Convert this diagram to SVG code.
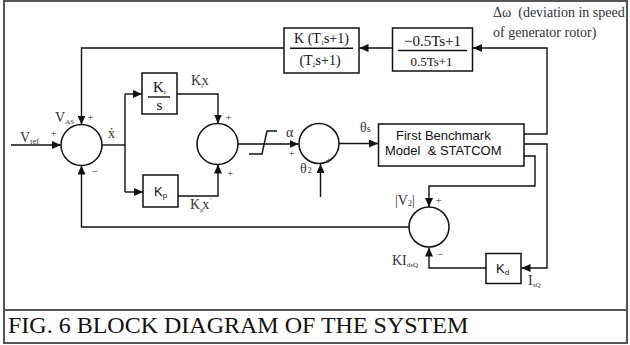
<svg xmlns="http://www.w3.org/2000/svg" width="630" height="345" viewBox="0 0 630 345">
<defs>
<marker id="ah" markerUnits="userSpaceOnUse" markerWidth="9" markerHeight="8" refX="9" refY="4" orient="auto">
<path d="M0,0 L9,4 L0,8 z" fill="#111"/>
</marker>
<style>
.ln{fill:none;stroke:#111;stroke-width:1.4}
.ar{fill:none;stroke:#111;stroke-width:1.4;marker-end:url(#ah)}
.bx{fill:#fff;stroke:#111;stroke-width:1.5}
.sm{fill:#fff;stroke:#111;stroke-width:1.5}
.tm{font-family:"Liberation Serif","Times New Roman",serif;fill:#111}
.lb{font-family:"Liberation Serif","Times New Roman",serif;fill:#333;font-size:14px}
.ps{font-family:"Liberation Serif","Times New Roman",serif;fill:#333;font-size:11px;text-anchor:middle}
.sf{font-family:"Liberation Sans",Arial,sans-serif;fill:#111}
</style>
</defs>
<rect width="630" height="345" fill="#fff"/>
<g id="frame" fill="none" stroke="#555" stroke-width="2">
<rect x="4" y="1" width="623" height="342"/>
<line x1="4" y1="310" x2="627" y2="310"/>
</g>
<text class="tm" x="8" y="333" font-size="24" fill="#222">FIG. 6 BLOCK DIAGRAM OF THE SYSTEM</text>

<g id="connectors">
<path class="ar" d="M11,145 H61"/>
<path class="ln" d="M102,145 H125"/>
<path class="ln" d="M125,94 V192"/>
<path class="ar" d="M125,94 H142"/>
<path class="ar" d="M125,192 H143"/>
<path class="ar" d="M177,94 H218 V123.5"/>
<path class="ar" d="M178,196 H218 V164.5"/>
<path class="ar" d="M237.5,144 H298.5"/>
<path class="ln" d="M249,154 H262 L267,131 H277"/>
<path class="ar" d="M339,143.5 H378"/>
<path class="ar" d="M320.5,197 V164"/>
<path class="ar" d="M524,134 H547 V48 H473"/>
<path class="ar" d="M392.5,48 H359.5"/>
<path class="ar" d="M284,48 H81.5 V124.5"/>
<path class="ar" d="M524,144 H547 V268 H521.5"/>
<path class="ar" d="M486,268 H429 V247.5"/>
<path class="ar" d="M524,156 H535 V186 H429 V207"/>
<path class="ar" d="M409,227 H81.5 V165.5"/>
</g>

<g id="sum1"><circle class="sm" cx="81.5" cy="145" r="20.5"/></g>
<g id="sum2"><circle class="sm" cx="217.5" cy="144" r="20.5"/></g>
<g id="sum3"><circle class="sm" cx="319" cy="143.5" r="20"/></g>
<g id="sum4"><circle class="sm" cx="429" cy="227" r="20"/></g>

<g id="lead-lag">
<rect class="bx" x="284" y="28" width="75" height="45"/>
<line class="ln" x1="290" y1="48.3" x2="353" y2="48.3"/>
<text class="tm" x="321.5" y="43" font-size="14" text-anchor="middle">K (T<tspan font-size="6" dy="2">1</tspan><tspan dy="-2">s+1)</tspan></text>
<text class="tm" x="320" y="65" font-size="14" text-anchor="middle">(T<tspan font-size="6" dy="2">2</tspan><tspan dy="-2">s+1)</tspan></text>
</g>

<g id="filter">
<rect class="bx" x="392.5" y="28" width="80" height="43"/>
<line class="ln" x1="398" y1="50.5" x2="467" y2="50.5"/>
<text class="tm" x="432.5" y="46" font-size="15" text-anchor="middle">−0.5Ts+1</text>
<text class="tm" x="431.5" y="66" font-size="13" text-anchor="middle">0.5Ts+1</text>
</g>

<g id="ki">
<rect class="bx" x="142" y="73" width="35" height="41"/>
<line class="ln" x1="148" y1="97" x2="170" y2="97"/>
<text class="tm" x="153" y="92" font-size="15">K<tspan font-size="7" dy="2">i</tspan></text>
<text class="tm" x="159.5" y="110" font-size="15" text-anchor="middle">s</text>
</g>

<g id="kp">
<rect class="bx" x="143" y="175" width="35" height="32"/>
<text class="sf" x="154" y="196" font-size="13">K<tspan font-size="8" dy="2">p</tspan></text>
</g>

<g id="plant">
<rect class="bx" x="378.5" y="124" width="145.5" height="42"/>
<text class="sf" x="396" y="140" font-size="13">First Benchmark</text>
<text class="sf" x="385" y="155" font-size="13">Model&#160; &amp; STATCOM</text>
</g>

<g id="kd">
<rect class="bx" x="486" y="253.5" width="35" height="30"/>
<text class="sf" x="496" y="273" font-size="13">K<tspan font-size="8" dy="2">d</tspan></text>
</g>

<g id="labels">
<text class="lb" x="20" y="142">V<tspan font-size="8" dy="2">ref</tspan></text>
<text class="lb" x="55" y="121.5">V<tspan font-size="7" dy="2">AS</tspan></text>
<text class="lb" x="108" y="138">ẋ</text>
<text class="lb" x="191" y="85">K<tspan font-size="6" dy="3">i</tspan><tspan dy="-3" dx="-1">x</tspan></text>
<text class="lb" x="190" y="209">K<tspan font-size="6" dy="3">p</tspan><tspan dy="-3" dx="-1">x</tspan><tspan font-size="10" dy="-4">˙</tspan></text>
<text class="lb" x="286" y="137">α</text>
<text class="lb" x="360" y="132">θ<tspan font-size="10">s</tspan></text>
<text class="lb" x="300" y="173">θ<tspan font-size="8" dx="1">2</tspan></text>
<text class="lb" x="395" y="205">|V<tspan font-size="8" dy="1">2</tspan><tspan dy="-1">|</tspan></text>
<text class="lb" x="392" y="265">KI<tspan font-size="7" dy="2">dsQ</tspan></text>
<text class="lb" x="528" y="285">I<tspan font-size="7" dy="2">sQ</tspan></text>
<text class="lb" x="493" y="17" font-size="13">Δω&#160; (deviation in speed</text>
<text class="lb" x="493" y="37" font-size="13">of generator rotor)</text>
<text class="ps" x="90.5" y="121">+</text>
<text class="ps" x="53.5" y="137">+</text>
<text class="ps" x="94.5" y="175">−</text>
<text class="ps" x="228.5" y="121">+</text>
<text class="ps" x="230" y="177">+</text>
<text class="ps" x="291.5" y="157">+</text>
<text class="ps" x="328.5" y="164">+</text>
<text class="ps" x="438.5" y="204">+</text>
<text class="ps" x="440" y="258">−</text>
</g>
</svg>
